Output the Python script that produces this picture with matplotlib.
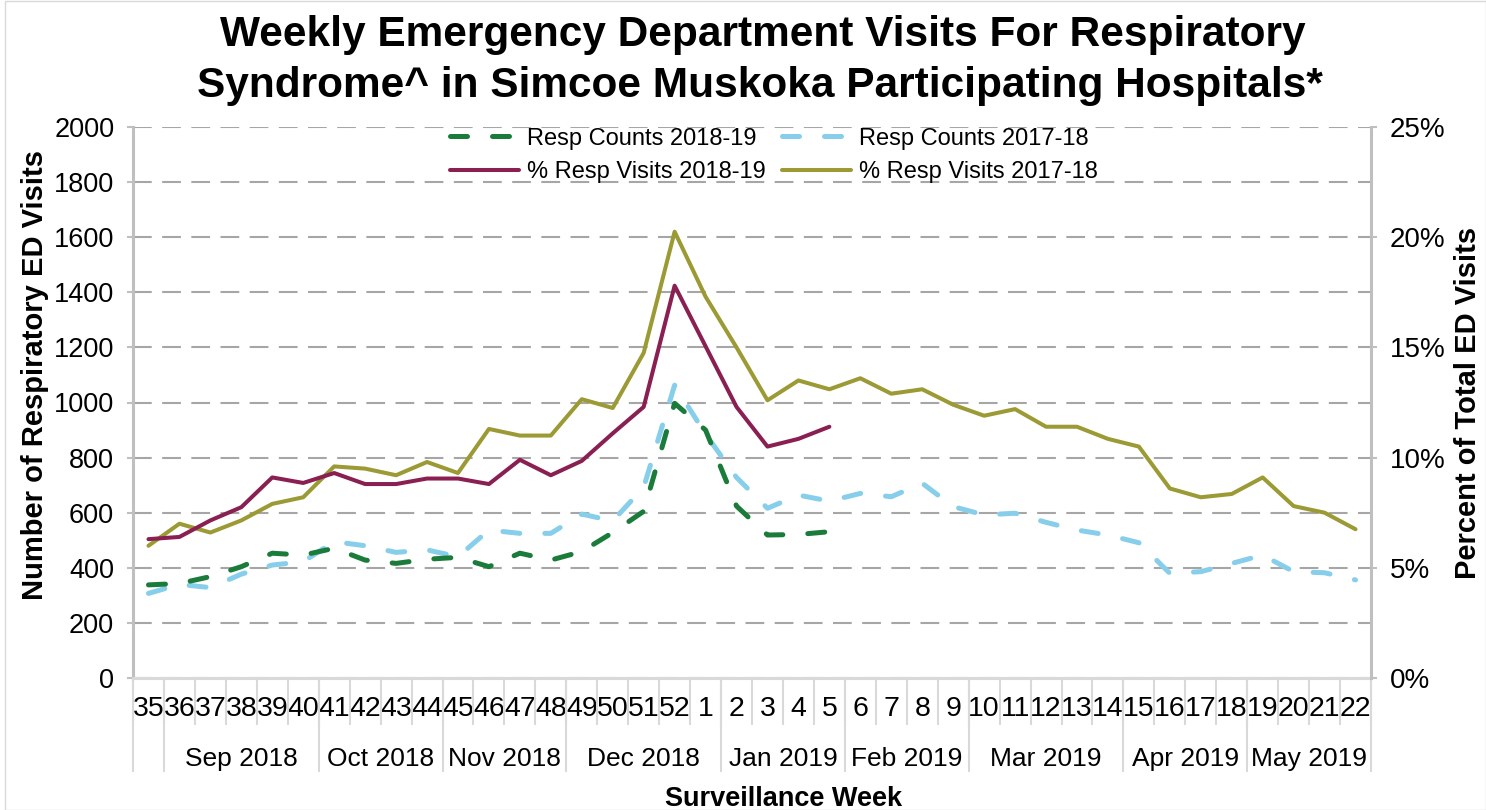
import matplotlib
matplotlib.use("Agg")
import matplotlib.pyplot as plt
from matplotlib.patches import Rectangle
import numpy as np

plt.rcParams['font.family'] = ['Liberation Sans', 'DejaVu Sans']

# ---------------- data ----------------
weeks = ['35', '36', '37', '38', '39', '40', '41', '42', '43', '44', '45', '46', '47', '48',
         '49', '50', '51', '52', '1', '2', '3', '4', '5', '6', '7', '8', '9', '10', '11', '12',
         '13', '14', '15', '16', '17', '18', '19', '20', '21', '22']
month_labels = ['', 'Sep 2018', 'Oct 2018', 'Nov 2018', 'Dec 2018', 'Jan 2019',
                'Feb 2019', 'Mar 2019', 'Apr 2019', 'May 2019']
month_sizes = [1, 5, 4, 4, 5, 4, 4, 5, 4, 4]

counts_1819 = [338, 343, 368, 404, 453, 446, 471, 428, 416, 431, 438, 404, 453, 428,
               459, 528, 605, 997, 900, 624, 519, 521, 531]
counts_1718 = [307, 340, 328, 377, 410, 422, 495, 480, 456, 465, 440, 537, 525, 525,
               595, 570, 692, 1063, 885, 728, 616, 664, 642, 670, 658, 707, 622, 592, 598,
               565, 537, 519, 491, 380, 386, 416, 446, 386, 382, 356]
pct_1819 = [6.3, 6.4, 7.15, 7.75, 9.1, 8.85, 9.3, 8.8, 8.8, 9.05, 9.05, 8.8, 9.9, 9.2,
            9.85, 11.1, 12.3, 17.8, 15.05, 12.3, 10.5, 10.85, 11.4]
pct_1718 = [6.0, 7.0, 6.6, 7.15, 7.9, 8.2, 9.6, 9.5, 9.2, 9.8, 9.3, 11.3, 11.0, 11.0,
            12.65, 12.25, 14.75, 20.25, 17.3, 15.0, 12.6, 13.5, 13.1, 13.6, 12.9, 13.1, 12.4,
            11.9, 12.2, 11.4, 11.4, 10.85, 10.5, 8.6, 8.2, 8.35, 9.1, 7.8, 7.5, 6.75]

c_green = '#1B7B3B'
c_blue = '#87CEEB'
c_maroon = '#8A1F52'
c_olive = '#9B9A34'

# ---------------- figure ----------------
fig = plt.figure(figsize=(14.86, 8.10), dpi=100)
ax = fig.add_axes([133/1486, 1-678/810, (1371-133)/1486, (678-127)/810])
ax2 = ax.twinx()

x_all = np.arange(len(weeks))
x1819 = x_all[:len(counts_1819)]

dash = (0, (3.4, 5.0))
l1, = ax.plot(x1819, counts_1819, color=c_green, lw=3.6, linestyle=dash,
              dash_capstyle='round', label='Resp Counts 2018-19', zorder=3)
l2, = ax.plot(x_all, counts_1718, color=c_blue, lw=3.6, linestyle=dash,
              dash_capstyle='round', label='Resp Counts 2017-18', zorder=2)
l3, = ax2.plot(x1819, pct_1819, color=c_maroon, lw=2.9, label='% Resp Visits 2018-19',
               solid_capstyle='round', zorder=3)
l4, = ax2.plot(x_all, pct_1718, color=c_olive, lw=2.9, label='% Resp Visits 2017-18',
               solid_capstyle='round', zorder=2)

# left axis
ax.set_ylim(0, 2000)
ax.set_yticks(np.arange(0, 2001, 200))
ax.set_xlim(-0.5, len(weeks) - 0.5)
ax.grid(axis='y', color='#A6A6A6', lw=1.5, linestyle=(0, (9, 5)))
ax.set_axisbelow(True)
for s in ['top']:
    ax.spines[s].set_visible(False)
    ax2.spines[s].set_visible(False)
ax.spines['left'].set_color('#BFBFBF')
ax.spines['left'].set_linewidth(2.2)
ax.spines['bottom'].set_color('#D9D9D9')
ax.spines['bottom'].set_linewidth(2.2)
ax.spines['right'].set_visible(False)
ax2.spines['left'].set_visible(False)
ax2.spines['bottom'].set_visible(False)
ax2.spines['right'].set_color('#BFBFBF')
ax2.spines['right'].set_linewidth(2.2)

ax.tick_params(axis='y', labelsize=19.5, length=4.5, width=1.5, color='#BFBFBF', pad=9)
ax2.set_ylim(0, 25)
ax2.set_yticks(np.arange(0, 26, 5))
ax2.set_yticklabels([f'{v}%' for v in range(0, 26, 5)])
ax2.tick_params(axis='y', labelsize=20, length=4.5, width=1.5, color='#BFBFBF', pad=9)

# x axis: week labels + boundary ticks
ax.set_xticks(x_all)
ax.set_xticklabels(weeks)
ax.set_xticks(np.arange(-0.5, len(weeks), 1.0), minor=True)
ax.tick_params(axis='x', which='major', length=0, labelsize=20.5, pad=13)
ax.tick_params(axis='x', which='minor', length=34, width=1.5, color='#D9D9D9')

bounds = np.concatenate([[0], np.cumsum(month_sizes)]) - 0.5
centers = (bounds[:-1] + bounds[1:]) / 2
sec1 = ax.secondary_xaxis('bottom')
sec1.set_xticks(bounds)
sec1.set_xticklabels([''] * len(bounds))
sec1.tick_params(length=68, width=1.5, color='#D9D9D9')
sec1.spines['bottom'].set_visible(False)
sec2 = ax.secondary_xaxis('bottom')
sec2.set_xticks(centers)
sec2.set_xticklabels(month_labels)
sec2.tick_params(length=0, labelsize=19, pad=50)
sec2.spines['bottom'].set_visible(False)

# axis labels
ax.set_ylabel('Number of Respiratory ED Visits', fontsize=21, fontweight='bold')
ax.yaxis.set_label_coords(-0.068, 0.55)
ax2.set_ylabel('Percent of Total ED Visits', fontsize=21, fontweight='bold', rotation=90)
ax2.yaxis.set_label_coords(1.067, 0.5)
fig.text(784/1486, 1-799/810, 'Surveillance Week', fontsize=19.5, fontweight='bold',
         ha='center', va='center')

# title
fig.text(763/1486, 1-35/810, 'Weekly Emergency Department Visits For Respiratory',
         fontsize=30.5, fontweight='bold', ha='center', va='center')
fig.text(760/1486, 1-86/810, 'Syndrome^ in Simcoe Muskoka Participating Hospitals*',
         fontsize=30.5, fontweight='bold', ha='center', va='center')

# legend
leg = fig.legend(handles=[l1, l3, l2, l4], ncol=2, loc='center',
                 bbox_to_anchor=(774/1486, 1-155.5/810), frameon=False, fontsize=17,
                 handlelength=2.9, handletextpad=0.35, columnspacing=0.7,
                 labelspacing=0.5, borderpad=0)

# chart border
fig.patches.append(Rectangle((5/1486, 0), 1 - 5/1486, 1 - 1/810, transform=fig.transFigure,
                             fill=False, edgecolor='#D9D9D9', lw=1.0))

fig.savefig('out.png', dpi=100)
